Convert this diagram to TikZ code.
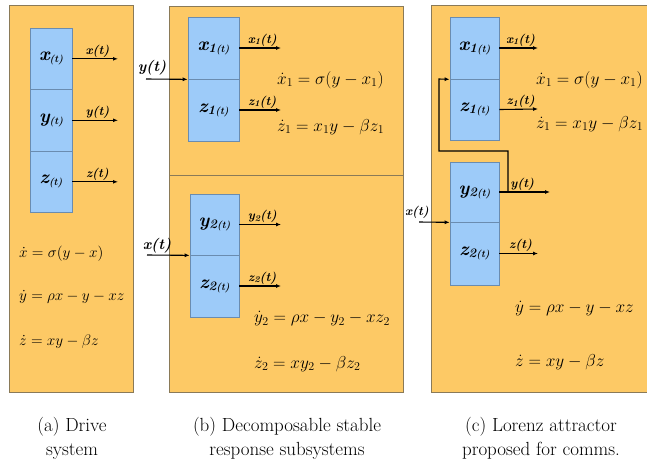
\documentclass[tikz,border=0pt]{standalone}
\usepackage{graphicx}
\usetikzlibrary{arrows.meta}
\definecolor{panelfill}{HTML}{FDC965}
\definecolor{panelline}{HTML}{8A7A58}
\definecolor{blockfill}{HTML}{9DCBF9}
\definecolor{blockline}{HTML}{6A8CB0}
% block label: letter, index
\newcommand{\blab}[2]{{\bfseries\itshape\fontsize{19}{19}\selectfont #1\raisebox{-2pt}{\fontsize{13}{13}\selectfont #2}\raisebox{-2pt}{\fontsize{10}{10}\selectfont(t)}}}
\newcommand{\slab}[2]{#1\raisebox{-1.5pt}{\fontsize{9}{9}\selectfont #2}(t)}
\newcommand{\eqsmall}[1]{\scalebox{1.06}{#1}}
\begin{document}
\begin{tikzpicture}[x=1pt,y=-1pt,
  panel/.style={draw=panelline, fill=panelfill, line width=0.9pt, inner sep=0pt},
  block/.style={draw=blockline, fill=blockfill, line width=0.7pt, inner sep=0pt},
  sig/.style={-{Latex[length=5pt,width=4pt]}, line width=1.1pt},
  siglab/.style={inner sep=1pt, font=\fontsize{12.5}{13}\selectfont\bfseries\itshape},
  eqa/.style={anchor=west, inner sep=0pt, font=\fontsize{14.4}{15}\selectfont},
  eqb/.style={anchor=west, inner sep=0pt, font=\fontsize{17.28}{18}\selectfont},
  eqc/.style={anchor=west, inner sep=0pt, font=\fontsize{17.28}{18}\selectfont},
  captext/.style={align=center, inner sep=0pt, font=\fontsize{19}{24}\selectfont}]
\useasboundingbox (0,0) rectangle (647,464);
\clip (0,0) rectangle (647,464);

% ---------- panel (a)
\node[panel, minimum width=124pt, minimum height=387pt] (pa) at (71,198.5) {};
\node[block, minimum width=42pt, minimum height=61.5pt] (xa) at (51,58.8) {\blab{x}{}};
\node[block, minimum width=42pt, minimum height=61.5pt] (ya) at (51,120.3) {\blab{y}{}};
\node[block, minimum width=42pt, minimum height=61.5pt] (za) at (51,181.8) {\blab{z}{}};
\coordinate (xaout) at (118,58.8);
\coordinate (yaout) at (118,120.3);
\coordinate (zaout) at (118,181.8);
\draw[sig] (xa.east) -- (xaout) node[siglab, pos=0.55, above] {x(t)};
\draw[sig] (ya.east) -- (yaout) node[siglab, pos=0.55, above] {y(t)};
\draw[sig] (za.east) -- (zaout) node[siglab, pos=0.55, above] {z(t)};
\node[eqa] (ea1) at (19,254) {\eqsmall{$\dot{x} = \sigma(y - x)$}};
\node[eqa] (ea2) at (19,297) {\eqsmall{$\dot{y} = \rho x - y - xz$}};
\node[eqa] (ea3) at (19,342) {\eqsmall{$\dot{z} = xy - \beta z$}};

% ---------- panel (b)
\node[panel, minimum width=234pt, minimum height=169pt] (pb1) at (286,90.5) {};
\node[panel, minimum width=234pt, minimum height=217pt] (pb2) at (286,283.5) {};
\node[block, minimum width=51pt, minimum height=62pt] (x1b) at (213.5,48) {\blab{x}{1}};
\node[block, minimum width=51pt, minimum height=62pt] (z1b) at (213.5,110) {\blab{z}{1}};
\coordinate (x1bout) at (281,48);
\coordinate (z1bout) at (281,110);
\draw[sig] (x1b.east) -- (x1bout) node[siglab, pos=0.55, above] {\slab{x}{1}};
\draw[sig] (z1b.east) -- (z1bout) node[siglab, pos=0.55, above] {\slab{z}{1}};
\coordinate (ybin) at (146,79);
\draw[sig] (ybin) -- (x1b.south west);
\node[siglab, font=\fontsize{15}{15}\selectfont\bfseries\itshape] (yblab) at (152,68) {y(t)};
\node[eqb] (eb1) at (277,80) {$\dot{x}_1 = \sigma(y - x_1)$};
\node[eqb] (eb2) at (277,127) {$\dot{z}_1 = x_1 y - \beta z_1$};

\node[block, minimum width=49pt, minimum height=61pt] (y2b) at (214.5,224.5) {\blab{y}{2}};
\node[block, minimum width=49pt, minimum height=62pt] (z2b) at (214.5,286) {\blab{z}{2}};
\coordinate (y2bout) at (281,224.5);
\coordinate (z2bout) at (281,286);
\draw[sig] (y2b.east) -- (y2bout) node[siglab, pos=0.55, above] {\slab{y}{2}};
\draw[sig] (z2b.east) -- (z2bout) node[siglab, pos=0.55, above] {\slab{z}{2}};
\coordinate (xbin) at (147,255);
\draw[sig] (xbin) -- (y2b.south west);
\node[siglab, font=\fontsize{15}{15}\selectfont\bfseries\itshape] (xblab) at (157,246) {x(t)};
\node[eqb] (eb3) at (254,319) {$\dot{y}_2 = \rho x - y_2 - x z_2$};
\node[eqb] (eb4) at (254,364) {$\dot{z}_2 = x y_2 - \beta z_2$};

% ---------- panel (c)
\node[panel, minimum width=240pt, minimum height=387pt] (pc) at (551,198.5) {};
\node[block, minimum width=49pt, minimum height=62pt] (x1c) at (474.5,48) {\blab{x}{1}};
\node[block, minimum width=49pt, minimum height=61pt] (z1c) at (474.5,109.5) {\blab{z}{1}};
\coordinate (x1cout) at (538,48);
\coordinate (z1cout) at (538,109);
\draw[sig] (x1c.east) -- (x1cout) node[siglab, pos=0.55, above] {\slab{x}{1}};
\draw[sig] (z1c.east) -- (z1cout) node[siglab, pos=0.55, above] {\slab{z}{1}};
\node[block, minimum width=49pt, minimum height=60pt] (y2c) at (474.5,192) {\blab{y}{2}};
\node[block, minimum width=49pt, minimum height=63pt] (z2c) at (474.5,253.5) {\blab{z}{2}};
\coordinate (y2cout) at (550,192);
\coordinate (z2cout) at (538,253.5);
\draw[sig] (y2c.east) -- (y2cout) node[siglab, pos=0.45, above] {y(t)};
\draw[sig] (z2c.east) -- (z2cout) node[siglab, pos=0.55, above] {z(t)};
\coordinate (tap) at (508,192);
\coordinate (fbr) at (508,151);
\coordinate (fbl) at (439,151);
\coordinate (fbt) at (439,79);
\draw[sig] (tap) -- (fbr) -- (fbl) -- (fbt) -- (x1c.south west);
\coordinate (xcin) at (419,222);
\draw[sig] (xcin) -- (y2c.south west);
\node[siglab] (xclab) at (417,212) {x(t)};
\node[eqc] (ec1) at (536,80) {$\dot{x}_1 = \sigma(y - x_1)$};
\node[eqc] (ec2) at (536,124) {$\dot{z}_1 = x_1 y - \beta z_1$};
\node[eqc] (ec3) at (515,309) {$\dot{y} = \rho x - y - xz$};
\node[eqc] (ec4) at (515,362) {$\dot{z} = xy - \beta z$};

% ---------- captions
\node[captext] (capa) at (72,438) {(a) Drive\\system};
\node[captext] (capb) at (287,438) {(b) Decomposable stable\\response subsystems};
\node[captext] (capc) at (541,438) {(c) Lorenz attractor\\proposed for comms.};
\end{tikzpicture}
\end{document}
